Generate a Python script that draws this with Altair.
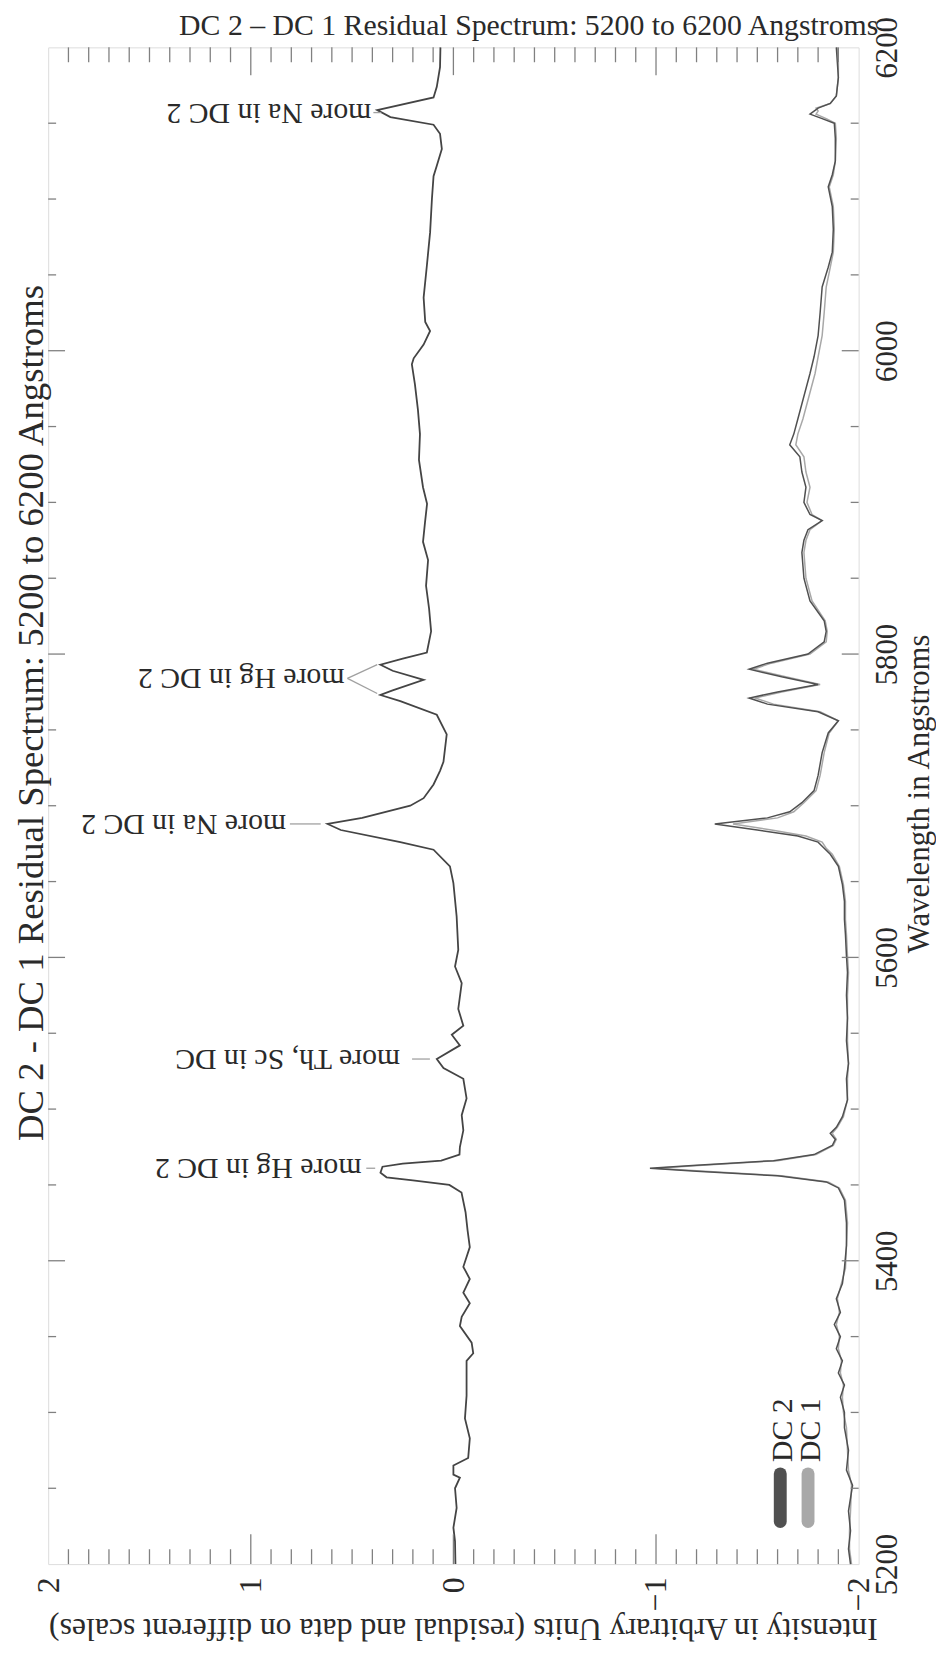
import altair as alt
import pandas as pd

FONT = "Liberation Serif"
TXT = "#2a2a2a"
FRAME = "#707070"
TICK = "#808080"

# ---------------- data ----------------
WL_LABELS = [5200, 5400, 5600, 5800, 6000, 6200]
INT_LABELS = [2, 1, 0, -1, -2]

RES_W = [5200, 5215, 5224, 5237, 5250, 5257, 5259, 5265, 5270, 5283, 5296, 5311, 5334, 5339, 5346,
         5357, 5363, 5372, 5379, 5388, 5396, 5409, 5420, 5432, 5445, 5450, 5453, 5455, 5458, 5462,
         5464, 5466, 5470, 5475, 5486, 5496, 5507, 5520, 5527, 5533, 5542, 5549, 5555, 5566, 5583,
         5594, 5605, 5627, 5649, 5660, 5671, 5676, 5684, 5688, 5692, 5700, 5705, 5714, 5723, 5729,
         5747, 5760, 5769, 5773, 5776, 5783, 5789, 5793, 5797, 5801, 5815, 5830, 5845, 5862, 5874, 5887,
         5899, 5910, 5928, 5945, 5961, 5978, 5991, 5995, 6004, 6013, 6019, 6035, 6056, 6078, 6100,
         6115, 6122, 6133, 6143, 6149, 6154, 6158.6, 6167, 6174, 6187, 6200]
RES_I = [-0.01, -0.008, 0.0, -0.016, -0.008, -0.032, 0.0, 0.0, -0.073, -0.081, -0.057, -0.065, -0.065, -0.098, -0.09,
         -0.032, -0.041, -0.081, -0.049, -0.081, -0.049, -0.081, -0.07, -0.06, -0.04, 0.02, 0.2, 0.33, 0.36, 0.35,
         0.25, 0.06, -0.03, -0.032, -0.049, -0.041, -0.065, -0.049, 0.049, 0.082, -0.032, 0.008, -0.049, -0.024, -0.041,
         -0.008, -0.024, -0.016, 0.0, 0.017, 0.098, 0.262, 0.556, 0.621, 0.45, 0.213, 0.147, 0.098, 0.066, 0.049,
         0.033, 0.082, 0.262, 0.36, 0.30, 0.147, 0.30, 0.36, 0.25, 0.131, 0.11, 0.12, 0.135, 0.125, 0.15, 0.14,
         0.13, 0.15, 0.17, 0.165, 0.175, 0.19, 0.205, 0.196, 0.147, 0.115, 0.139, 0.147, 0.131, 0.115, 0.106,
         0.098, 0.082, 0.057, 0.066, 0.098, 0.311, 0.376, 0.098, 0.082, 0.066, 0.064]

DATA_W = [5200, 5210, 5222, 5235, 5252, 5262, 5275, 5290, 5300, 5310, 5318, 5326, 5334, 5342, 5350,
          5358, 5366, 5375, 5385, 5395, 5410, 5425, 5440, 5448, 5452, 5456, 5459, 5461, 5463, 5466,
          5470, 5476, 5480, 5484, 5488, 5495, 5506, 5520, 5530, 5545, 5560, 5575, 5590, 5601, 5615,
          5625, 5637, 5648, 5660, 5668, 5672, 5676, 5680, 5684, 5688, 5692, 5696, 5702, 5710, 5720,
          5735, 5748, 5756, 5762, 5767, 5771, 5775, 5780, 5785, 5790, 5794, 5800, 5808, 5815, 5822,
          5835, 5850, 5867, 5875, 5882, 5888, 5892, 5900, 5910, 5920, 5930, 5938, 5945, 5955, 5970,
          5985, 5996, 6010, 6025, 6042, 6055, 6065, 6080, 6095, 6108, 6116, 6125, 6140, 6150, 6153,
          6156, 6158, 6160, 6163, 6168, 6180, 6190, 6200]
DC2_I = [-1.96, -1.95, -1.96, -1.95, -1.97, -1.94, -1.95, -1.93, -1.93, -1.91, -1.93, -1.90, -1.92, -1.89, -1.91,
         -1.88, -1.91, -1.89, -1.92, -1.93, -1.94, -1.94, -1.93, -1.90, -1.84, -1.60, -1.20, -0.97, -1.20, -1.58,
         -1.78, -1.87, -1.885, -1.86, -1.89, -1.92, -1.945, -1.94, -1.95, -1.94, -1.945, -1.94, -1.945, -1.94, -1.935,
         -1.93, -1.93, -1.92, -1.90, -1.86, -1.83, -1.80, -1.70, -1.50, -1.29, -1.55, -1.66, -1.72, -1.78, -1.80,
         -1.82, -1.85, -1.90, -1.80, -1.55, -1.46, -1.60, -1.80, -1.62, -1.46, -1.55, -1.75, -1.83, -1.84, -1.83,
         -1.76, -1.73, -1.72, -1.73, -1.75, -1.82, -1.76, -1.73, -1.74, -1.72, -1.71, -1.66, -1.68, -1.70, -1.73,
         -1.76, -1.78, -1.80, -1.81, -1.82, -1.85, -1.87, -1.875, -1.87, -1.85, -1.87, -1.885, -1.885, -1.88, -1.82,
         -1.76, -1.78, -1.80, -1.86, -1.89, -1.90, -1.895, -1.89]
DC1_I = [-1.965, -1.955, -1.955, -1.96, -1.965, -1.95, -1.945, -1.94, -1.925, -1.92, -1.925, -1.91, -1.915, -1.90, -1.905,
         -1.89, -1.905, -1.895, -1.915, -1.935, -1.94, -1.945, -1.935, -1.905, -1.85, -1.62, -1.24, -1.00, -1.23, -1.60,
         -1.79, -1.875, -1.89, -1.87, -1.895, -1.925, -1.945, -1.945, -1.95, -1.945, -1.945, -1.945, -1.95, -1.945, -1.94,
         -1.935, -1.935, -1.925, -1.905, -1.87, -1.84, -1.82, -1.74, -1.57, -1.38, -1.60, -1.68, -1.73, -1.79, -1.81,
         -1.83, -1.855, -1.90, -1.81, -1.58, -1.49, -1.62, -1.81, -1.64, -1.48, -1.57, -1.76, -1.84, -1.845, -1.835,
         -1.77, -1.74, -1.73, -1.74, -1.76, -1.82, -1.77, -1.745, -1.76, -1.74, -1.73, -1.69, -1.70, -1.725, -1.755,
         -1.785, -1.80, -1.82, -1.83, -1.84, -1.86, -1.875, -1.88, -1.875, -1.855, -1.875, -1.885, -1.89, -1.885, -1.84,
         -1.79, -1.80, -1.79, -1.86, -1.89, -1.90, -1.90, -1.895]

ANN_TEXT = ["more Na in DC 2", "more Na in DC 2", "more Hg in DC 2", "more Th, Sc in DC", "more Hg in DC 2"]
ANN_W = [6157, 5688, 5784, 5533, 5461]
ANN_I = [0.405, 0.826, 0.538, 0.263, 0.454]
CON_W1 = [6157, 5688, 5784, 5784, 5533, 5461]
CON_W2 = [6157, 5688, 5793, 5774, 5533, 5461]
CON_I1 = [0.395, 0.807, 0.523, 0.523, 0.204, 0.430]
CON_I2 = [0.356, 0.655, 0.376, 0.376, 0.116, 0.386]

INT_MINOR = [round(-2 + 0.1 * k, 1) for k in range(1, 40) if k % 10 != 0]
INT_MAJOR = [-1, 0, 1]
WL_MINOR = [5200 + 50 * k for k in range(1, 20) if (50 * k) % 200 != 0]
WL_MAJOR = [5400, 5600, 5800, 6000]

# ---------------- layout ----------------
W, H = 817, 1529
xs = alt.Scale(domain=[-2, 2], reverse=True, nice=False, zero=False)
ys = alt.Scale(domain=[5200, 6200], nice=False, zero=False)

x_axis = alt.Axis(values=INT_LABELS, format="d", labelAngle=270, labelAlign="right", labelBaseline="middle",
                  labelPadding=13, labelFont=FONT, labelFontSize=32, labelColor=TXT, ticks=False, tickSize=0,
                  domain=False, grid=False,
                  title="Intensity in Arbitrary Units (residual and data on different scales)",
                  titleFont=FONT, titleFontSize=32, titleFontWeight="normal", titleColor=TXT, titleAngle=180,
                  titleAlign="center", titleBaseline="middle", titleX=418, titleY=65, labelFlush=False)
y_axis = alt.Axis(orient="right", values=WL_LABELS, format="d", labelAngle=270, labelAlign="center",
                  labelBaseline="middle", labelPadding=29, labelFont=FONT, labelFontSize=31, labelColor=TXT,
                  ticks=False, tickSize=0, domain=False, grid=False, title="Wavelength in Angstroms",
                  titleFont=FONT, titleFontSize=31, titleFontWeight="normal", titleColor=TXT, titleAngle=270,
                  titleAlign="center", titleBaseline="middle", titleX=61, titleY=752, labelFlush=False)


def X(field):
    return alt.X(field, type="quantitative", scale=xs, axis=x_axis)


def Y(field):
    return alt.Y(field, type="quantitative", scale=ys, axis=y_axis)


res_df = pd.DataFrame({"W": RES_W, "I": RES_I, "o": range(len(RES_W))})
data_df = pd.concat([
    pd.DataFrame({"W": DATA_W, "I": DC1_I, "series": "DC 1", "o": range(len(DATA_W))}),
    pd.DataFrame({"W": DATA_W, "I": DC2_I, "series": "DC 2", "o": range(len(DATA_W))}),
])

residual = alt.Chart(res_df).mark_line(color="#444444", strokeWidth=1.8).encode(
    x=X("I"), y=Y("W"), order="o:Q")

spectra = alt.Chart(data_df).mark_line(strokeWidth=1.5).encode(
    x=X("I"), y=Y("W"),
    color=alt.Color("series:N", scale=alt.Scale(domain=["DC 1", "DC 2"], range=["#a8a8a8", "#505050"]),
                    legend=None),
    detail="series:N",
    order="o:Q",
)

ann_df = pd.DataFrame({"t": ANN_TEXT, "W": ANN_W, "I": ANN_I})
ann = alt.Chart(ann_df).mark_text(angle=180, align="left", baseline="middle", font=FONT, fontSize=30,
                                  color=TXT).encode(x=X("I"), y=Y("W"), text="t:N")

con_df = pd.DataFrame({"W1": CON_W1, "W2": CON_W2, "I1": CON_I1, "I2": CON_I2})
con = alt.Chart(con_df).mark_rule(color="#a0a0a0", strokeWidth=1.3).encode(
    x=X("I1"), x2="I2", y=Y("W1"), y2="W2")


def hticks(vals, y0, y1):
    return alt.Chart(pd.DataFrame({"v": vals})).mark_rule(color=TICK, strokeWidth=1.3).encode(
        x=X("v"), y=alt.value(y0), y2=alt.value(y1))


def vticks(vals, x0, x1):
    return alt.Chart(pd.DataFrame({"v": vals})).mark_rule(color=TICK, strokeWidth=1.3).encode(
        y=Y("v"), x=alt.value(x0), x2=alt.value(x1))


ticks = [
    hticks(INT_MINOR, H, H - 15), hticks(INT_MAJOR, H, H - 30),
    hticks(INT_MINOR, 0, 15), hticks(INT_MAJOR, 0, 28),
    vticks(WL_MINOR, 0, 8), vticks(WL_MAJOR, 0, 17),
    vticks(WL_MINOR, W, W - 8), vticks(WL_MAJOR, W, W - 17),
]

LEG_NAMES = ["DC 2", "DC 1"]
LEG_COLORS = ["#505050", "#a8a8a8"]
legend_layers = []
for name, col, px in zip(LEG_NAMES, LEG_COLORS, [738, 766]):
    legend_layers.append(alt.Chart(pd.DataFrame({"n": [name]})).mark_rule(
        color=col, strokeWidth=13, strokeCap="round").encode(
        x=alt.value(px), y=alt.value(1438), y2=alt.value(1486)))
    legend_layers.append(alt.Chart(pd.DataFrame({"n": [name]})).mark_text(
        angle=270, align="left", baseline="middle", font=FONT, fontSize=30, color=TXT).encode(
        x=alt.value(px + 3), y=alt.value(1426), text="n:N"))

titles = [
    alt.Chart(pd.DataFrame({"t": ["DC 2 - DC 1 Residual Spectrum: 5200 to 6200 Angstroms"]})).mark_text(
        angle=270, align="center", baseline="middle", font=FONT, fontSize=37, color=TXT).encode(
        x=alt.value(-16), y=alt.value(671), text="t:N"),
    alt.Chart(pd.DataFrame({"t": ["DC 2 \u2013 DC 1 Residual Spectrum: 5200 to 6200 Angstroms"]})).mark_text(
        align="left", baseline="alphabetic", font=FONT, fontSize=30, color=TXT).encode(
        x=alt.value(132), y=alt.value(-12), text="t:N"),
]

chart = alt.layer(residual, spectra, con, ann, *ticks, *legend_layers, *titles).properties(
    width=W, height=H,
    autosize=alt.AutoSizeParams(type="none"),
    padding={"left": 40.5, "top": 33, "right": 78, "bottom": 92},
).configure_view(stroke=FRAME, strokeWidth=2).configure(background="white")

chart.save("out.html", embed_options={"renderer": "svg", "actions": False})
